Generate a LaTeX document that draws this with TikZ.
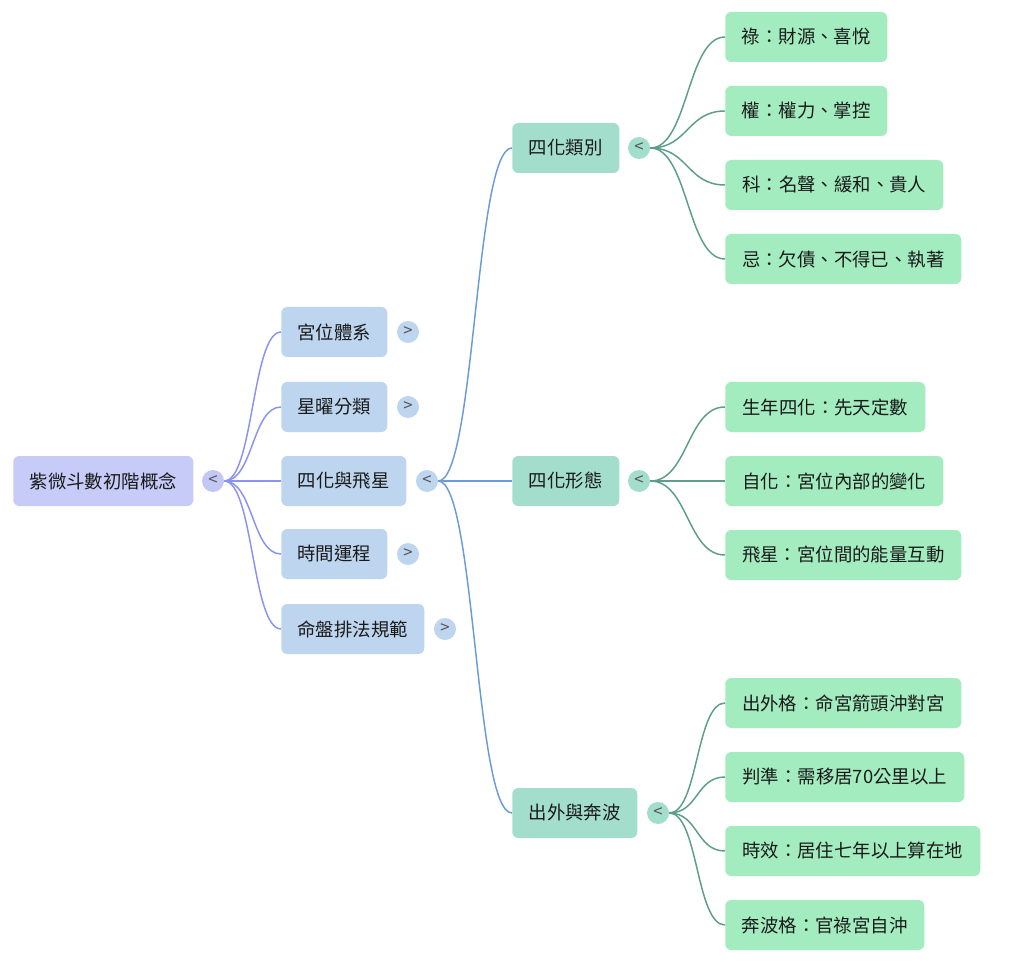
\documentclass[tikz,border=0pt]{standalone}
\usepackage{fontspec}
\setmainfont{Noto Sans CJK TC}
\definecolor{rootfill}{HTML}{C6CBF8}
\definecolor{rootcirc}{HTML}{C2C7F5}
\definecolor{lonefill}{HTML}{BDD5EE}
\definecolor{ltwofill}{HTML}{A3DDCB}
\definecolor{leaffill}{HTML}{A2ECC0}
\definecolor{rootline}{HTML}{8A93F2}
\definecolor{loneline}{HTML}{6C9BD9}
\definecolor{ltwoline}{HTML}{5C9E8B}
\definecolor{txt}{HTML}{1A1A1A}
\definecolor{marktxt}{HTML}{555555}
\newcommand{\tglmark}[1]{\raisebox{-3.6pt}[0pt][0pt]{#1}}
\begin{document}
\begin{tikzpicture}[x=0.75pt,y=-0.75pt,
  box/.style={rounded corners=4.5pt, minimum height=37.5pt, inner sep=0pt, font=\fontsize{13.8pt}{16pt}\selectfont, text=txt, anchor=west},
  rootbox/.style={box, fill=rootfill},
  lonebox/.style={box, fill=lonefill},
  ltwobox/.style={box, fill=ltwofill},
  leafbox/.style={box, fill=leaffill},
  toggle/.style={circle, minimum size=16.5pt, inner sep=0pt, font=\fontsize{12.5pt}{14pt}\selectfont, text=marktxt},
  rootedge/.style={draw=rootline, line width=1.1pt},
  loneedge/.style={draw=loneline, line width=1.1pt},
  ltwoedge/.style={draw=ltwoline, line width=1.1pt}]
\useasboundingbox (0,0) rectangle (1024,962);
\fill[white] (0,0) rectangle (1024,962);

% root
\node[rootbox, minimum width=135pt] (root) at (13,481) {紫微斗數初階概念};
\node[toggle, fill=rootcirc] (rc) at (213,481) {\tglmark{<}};

% level 1
\node[lonebox, minimum width=79.5pt] (a) at (281,332) {宮位體系};
\node[toggle, fill=lonefill] (ac) at (408,332) {\tglmark{>}};
\node[lonebox, minimum width=79.5pt] (b) at (281,407) {星曜分類};
\node[toggle, fill=lonefill] (bc) at (408,407) {\tglmark{>}};
\node[lonebox, minimum width=93.75pt] (c) at (281,481) {四化與飛星};
\node[toggle, fill=lonefill] (cc) at (427,481) {\tglmark{<}};
\node[lonebox, minimum width=79.5pt] (d) at (281,554) {時間運程};
\node[toggle, fill=lonefill] (dc) at (408,554) {\tglmark{>}};
\node[lonebox, minimum width=107.25pt] (e) at (281,629) {命盤排法規範};
\node[toggle, fill=lonefill] (ec) at (445,629) {\tglmark{>}};

% level 2
\node[ltwobox, minimum width=80.25pt] (p) at (512,148) {四化類別};
\node[toggle, fill=ltwofill] (pc) at (639,148) {\tglmark{<}};
\node[ltwobox, minimum width=80.25pt] (q) at (512,481) {四化形態};
\node[toggle, fill=ltwofill] (qc) at (639,481) {\tglmark{<}};
\node[ltwobox, minimum width=93.75pt] (r) at (512,813) {出外與奔波};
\node[toggle, fill=ltwofill] (rc2) at (658,813) {\tglmark{<}};

% leaves
\node[leafbox, minimum width=121.5pt] (p1) at (725,37) {祿：財源、喜悅};
\node[leafbox, minimum width=121.5pt] (p2) at (725,111) {權：權力、掌控};
\node[leafbox, minimum width=163.5pt] (p3) at (725,185) {科：名聲、緩和、貴人};
\node[leafbox, minimum width=177pt] (p4) at (725,259) {忌：欠債、不得已、執著};
\node[leafbox, minimum width=150pt] (q1) at (725,407) {生年四化：先天定數};
\node[leafbox, minimum width=163.5pt] (q2) at (725,481) {自化：宮位內部的變化};
\node[leafbox, minimum width=177pt] (q3) at (725,555) {飛星：宮位間的能量互動};
\node[leafbox, minimum width=177pt] (r1) at (725,703) {出外格：命宮箭頭沖對宮};
\node[leafbox, minimum width=179.25pt] (r2) at (725,777) {判準：需移居70公里以上};
\node[leafbox, minimum width=191.25pt] (r3) at (725,851) {時效：居住七年以上算在地};
\node[leafbox, minimum width=149.25pt] (r4) at (725,925) {奔波格：官祿宮自沖};

% edges
\foreach \t in {a,b,c,d,e}
  \path[rootedge] (rc.east) .. controls +(29,0) and +(-29,0) .. (\t.west);
\foreach \t in {p,q,r}
  \path[loneedge] (cc.east) .. controls +(37,0) and +(-37,0) .. (\t.west);
\foreach \t in {p1,p2,p3,p4}
  \path[ltwoedge] (pc.east) .. controls +(38,0) and +(-38,0) .. (\t.west);
\foreach \t in {q1,q2,q3}
  \path[ltwoedge] (qc.east) .. controls +(38,0) and +(-38,0) .. (\t.west);
\foreach \t in {r1,r2,r3,r4}
  \path[ltwoedge] (rc2.east) .. controls +(29,0) and +(-29,0) .. (\t.west);
\end{tikzpicture}
\end{document}
